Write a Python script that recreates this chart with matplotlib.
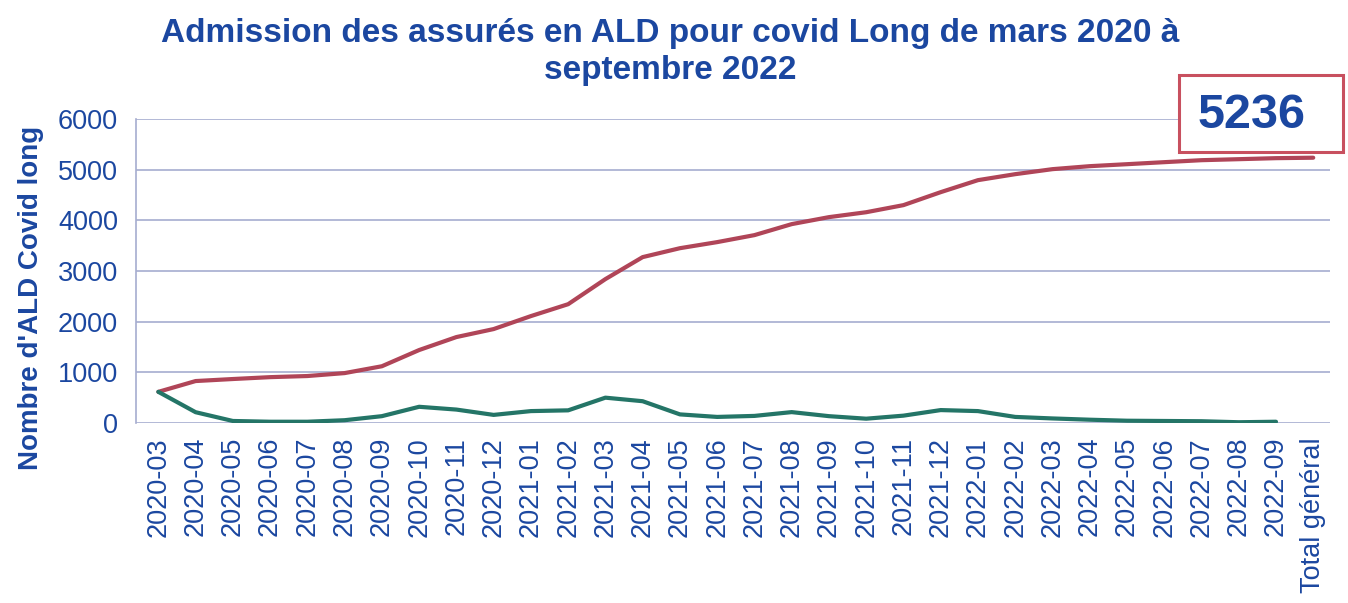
import matplotlib
matplotlib.use("Agg")
from matplotlib import pyplot as plt
from matplotlib.patches import Rectangle

plt.rcParams['font.family'] = ['Liberation Sans', 'DejaVu Sans']

# données
months = ["2020-03", "2020-04", "2020-05", "2020-06", "2020-07", "2020-08",
          "2020-09", "2020-10", "2020-11", "2020-12", "2021-01", "2021-02",
          "2021-03", "2021-04", "2021-05", "2021-06", "2021-07", "2021-08",
          "2021-09", "2021-10", "2021-11", "2021-12", "2022-01", "2022-02",
          "2022-03", "2022-04", "2022-05", "2022-06", "2022-07", "2022-08",
          "2022-09"]
categories = months + ["Total général"]

cumulative = [615, 828, 868, 905, 927, 985, 1120, 1440, 1696, 1854, 2110,
              2345, 2840, 3274, 3450, 3570, 3708, 3925, 4063, 4160, 4300,
              4556, 4793, 4911, 5010, 5069, 5108, 5148, 5187, 5207, 5227,
              5236]
monthly = [615, 213, 40, 25, 25, 55, 135, 320, 265, 160, 235, 250, 500, 430,
           170, 120, 140, 215, 135, 85, 145, 255, 235, 120, 90, 65, 45, 40,
           35, 15, 25]

total_label = "5236"

text_blue = '#1B47A0'
grid_col = '#A6ADCF'
red = '#B04558'
green = '#247567'

W, H = 1348, 603
fig = plt.figure(figsize=(W / 100, H / 100), dpi=100)
ax = fig.add_axes([136 / W, 1 - 423 / H, (1330 - 136) / W, (423 - 119) / H])

x = list(range(len(categories)))
ax.plot(x, cumulative, color=red, linewidth=3, solid_capstyle='round', zorder=3)
ax.plot(x[:len(monthly)], monthly, color=green, linewidth=3,
        solid_capstyle='round', zorder=3)

ax.set_xlim(-0.6, len(categories) - 0.55)
ax.set_ylim(0, 6000)
ax.set_yticks(range(0, 6001, 1000))
ax.grid(axis='y', color=grid_col, linewidth=1.2)
ax.set_axisbelow(True)
for side in ['top', 'right', 'bottom']:
    ax.spines[side].set_visible(False)
ax.spines['left'].set_color(grid_col)
ax.spines['left'].set_linewidth(1.2)

ax.set_xticks(x)
ax.set_xticklabels(categories, rotation=90, fontsize=19.5, color=text_blue)
ax.tick_params(axis='both', length=0)
ax.tick_params(axis='x', pad=10)
ax.tick_params(axis='y', labelsize=19.5, labelcolor=text_blue, pad=13)

ax.set_ylabel("Nombre d'ALD Covid long", fontsize=20, fontweight='bold',
              color=text_blue)
ax.yaxis.set_label_coords(-0.077, 0.41)

fig.text(670 / W, 1 - 18 / H, "Admission des assurés en ALD pour covid Long de mars 2020 à\nseptembre 2022",
         ha='center', va='top', fontsize=24, fontweight='bold', color=text_blue,
         linespacing=1.25)

# étiquette du total
fig.add_artist(Rectangle((1179 / W, 1 - 152 / H), 164 / W, 77 / H,
                         transform=fig.transFigure, facecolor='white',
                         edgecolor='#C8505F', linewidth=2.2, zorder=5))
fig.text(1252 / W, 1 - 116 / H, total_label, ha='center', va='center',
         fontsize=35, fontweight='bold', color=text_blue, zorder=6)

fig.savefig("out.png", dpi=100)
